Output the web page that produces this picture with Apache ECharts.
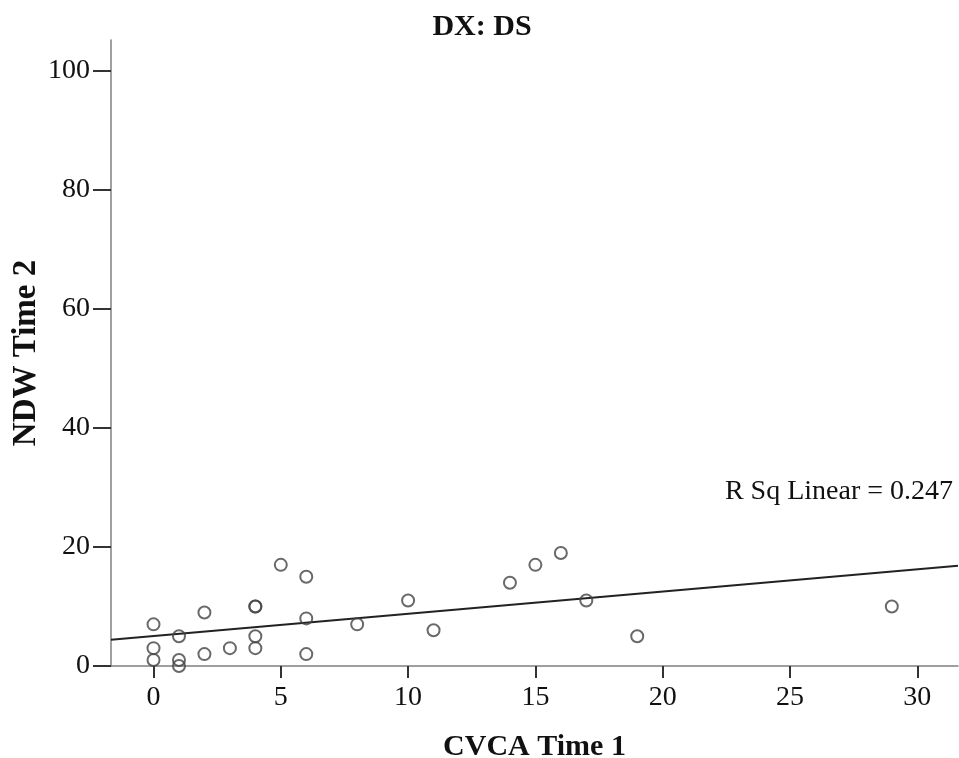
<!DOCTYPE html>
<html>
<head>
<meta charset="utf-8">
<script src="https://cdn.jsdelivr.net/npm/echarts@6/dist/echarts.min.js"></script>
<style>
html,body{margin:0;padding:0;background:#fff;}
#chart{width:959px;height:758px;}
</style>
</head>
<body>
<div id="chart"></div>
<script>
// CVCA Time 1 (x) vs NDW Time 2 (y), group DX: DS
var cvcaTime1 = [0, 0, 0, 1, 1, 1, 2, 2, 3, 4, 4, 4, 4, 5, 6, 6, 6, 8, 10, 11, 14, 15, 16, 17, 19, 29];
var ndwTime2  = [7, 3, 1, 5, 1, 0, 9, 2, 3, 10, 10, 5, 3, 17, 15, 8, 2, 7, 11, 6, 14, 17, 19, 11, 5, 10];
var xTicks = [0, 5, 10, 15, 20, 25, 30];
var yTicks = [0, 20, 40, 60, 80, 100];
var titleText = 'DX: DS';
var xName = 'CVCA Time 1';
var yName = 'NDW Time 2';
var rsqLabel = 'R Sq Linear = 0.247';

var xMin = -1.67, xMax = 31.6, yMin = 0, yMax = 105.2;

// least-squares fit
var n = cvcaTime1.length, sx = 0, sy = 0, sxx = 0, sxy = 0;
for (var i = 0; i < n; i++) {
  sx += cvcaTime1[i]; sy += ndwTime2[i];
  sxx += cvcaTime1[i] * cvcaTime1[i]; sxy += cvcaTime1[i] * ndwTime2[i];
}
var slope = (n * sxy - sx * sy) / (n * sxx - sx * sx);
var intercept = (sy - slope * sx) / n;
var fitLine = [[xMin, intercept + slope * xMin], [xMax, intercept + slope * xMax]];

var pts = cvcaTime1.map(function (x, i) { return [x, ndwTime2[i]]; });

var font = '"Liberation Serif", "Times New Roman", serif';
var chart = echarts.init(document.getElementById('chart'), null, {renderer: 'canvas'});
chart.setOption({
  backgroundColor: '#fff',
  animation: false,
  title: {
    text: titleText, left: 477, top: 7, textAlign: 'center',
    textStyle: {fontFamily: font, fontWeight: 'bold', fontSize: 30, color: '#111'}
  },
  grid: {left: 111, right: 1, top: 40, bottom: 92, containLabel: false, outerBoundsMode: 'none'},
  xAxis: {
    type: 'value', min: xMin, max: xMax,
    name: xName, nameLocation: 'middle', nameGap: 66,
    nameTextStyle: {fontFamily: font, fontWeight: 'bold', fontSize: 30, color: '#111'},
    axisLine: {show: true, onZero: false, lineStyle: {color: '#808080', width: 1.5}},
    axisTick: {show: true, length: 12, customValues: xTicks, lineStyle: {color: '#333', width: 2}},
    axisLabel: {customValues: xTicks, fontFamily: font, fontSize: 28, color: '#111', margin: 18},
    splitLine: {show: false}
  },
  yAxis: {
    type: 'value', min: yMin, max: yMax,
    name: yName, nameLocation: 'middle', nameGap: 68, nameRotate: 90, nameMoveOverlap: false,
    nameTextStyle: {fontFamily: font, fontWeight: 'bold', fontSize: 33, color: '#111'},
    axisLine: {show: true, onZero: false, lineStyle: {color: '#808080', width: 1.5}},
    axisTick: {show: true, length: 18, customValues: yTicks, lineStyle: {color: '#333', width: 2}},
    axisLabel: {customValues: yTicks, fontFamily: font, fontSize: 28, color: '#111', margin: 21},
    splitLine: {show: false}
  },
  series: [
    {
      type: 'line', data: fitLine, symbol: 'none', silent: true,
      lineStyle: {color: '#222', width: 2}, z: 2
    },
    {
      type: 'scatter', data: pts, symbol: 'circle', symbolSize: 12, clip: false,
      itemStyle: {color: 'rgba(255,255,255,0)', borderColor: '#444', borderWidth: 2}, z: 3
    }
  ],
  graphic: [{
    type: 'text', right: 6, top: 478,
    style: {text: rsqLabel, fontFamily: font, fontSize: 28, fill: '#111'}
  }]
});
</script>
</body>
</html>
